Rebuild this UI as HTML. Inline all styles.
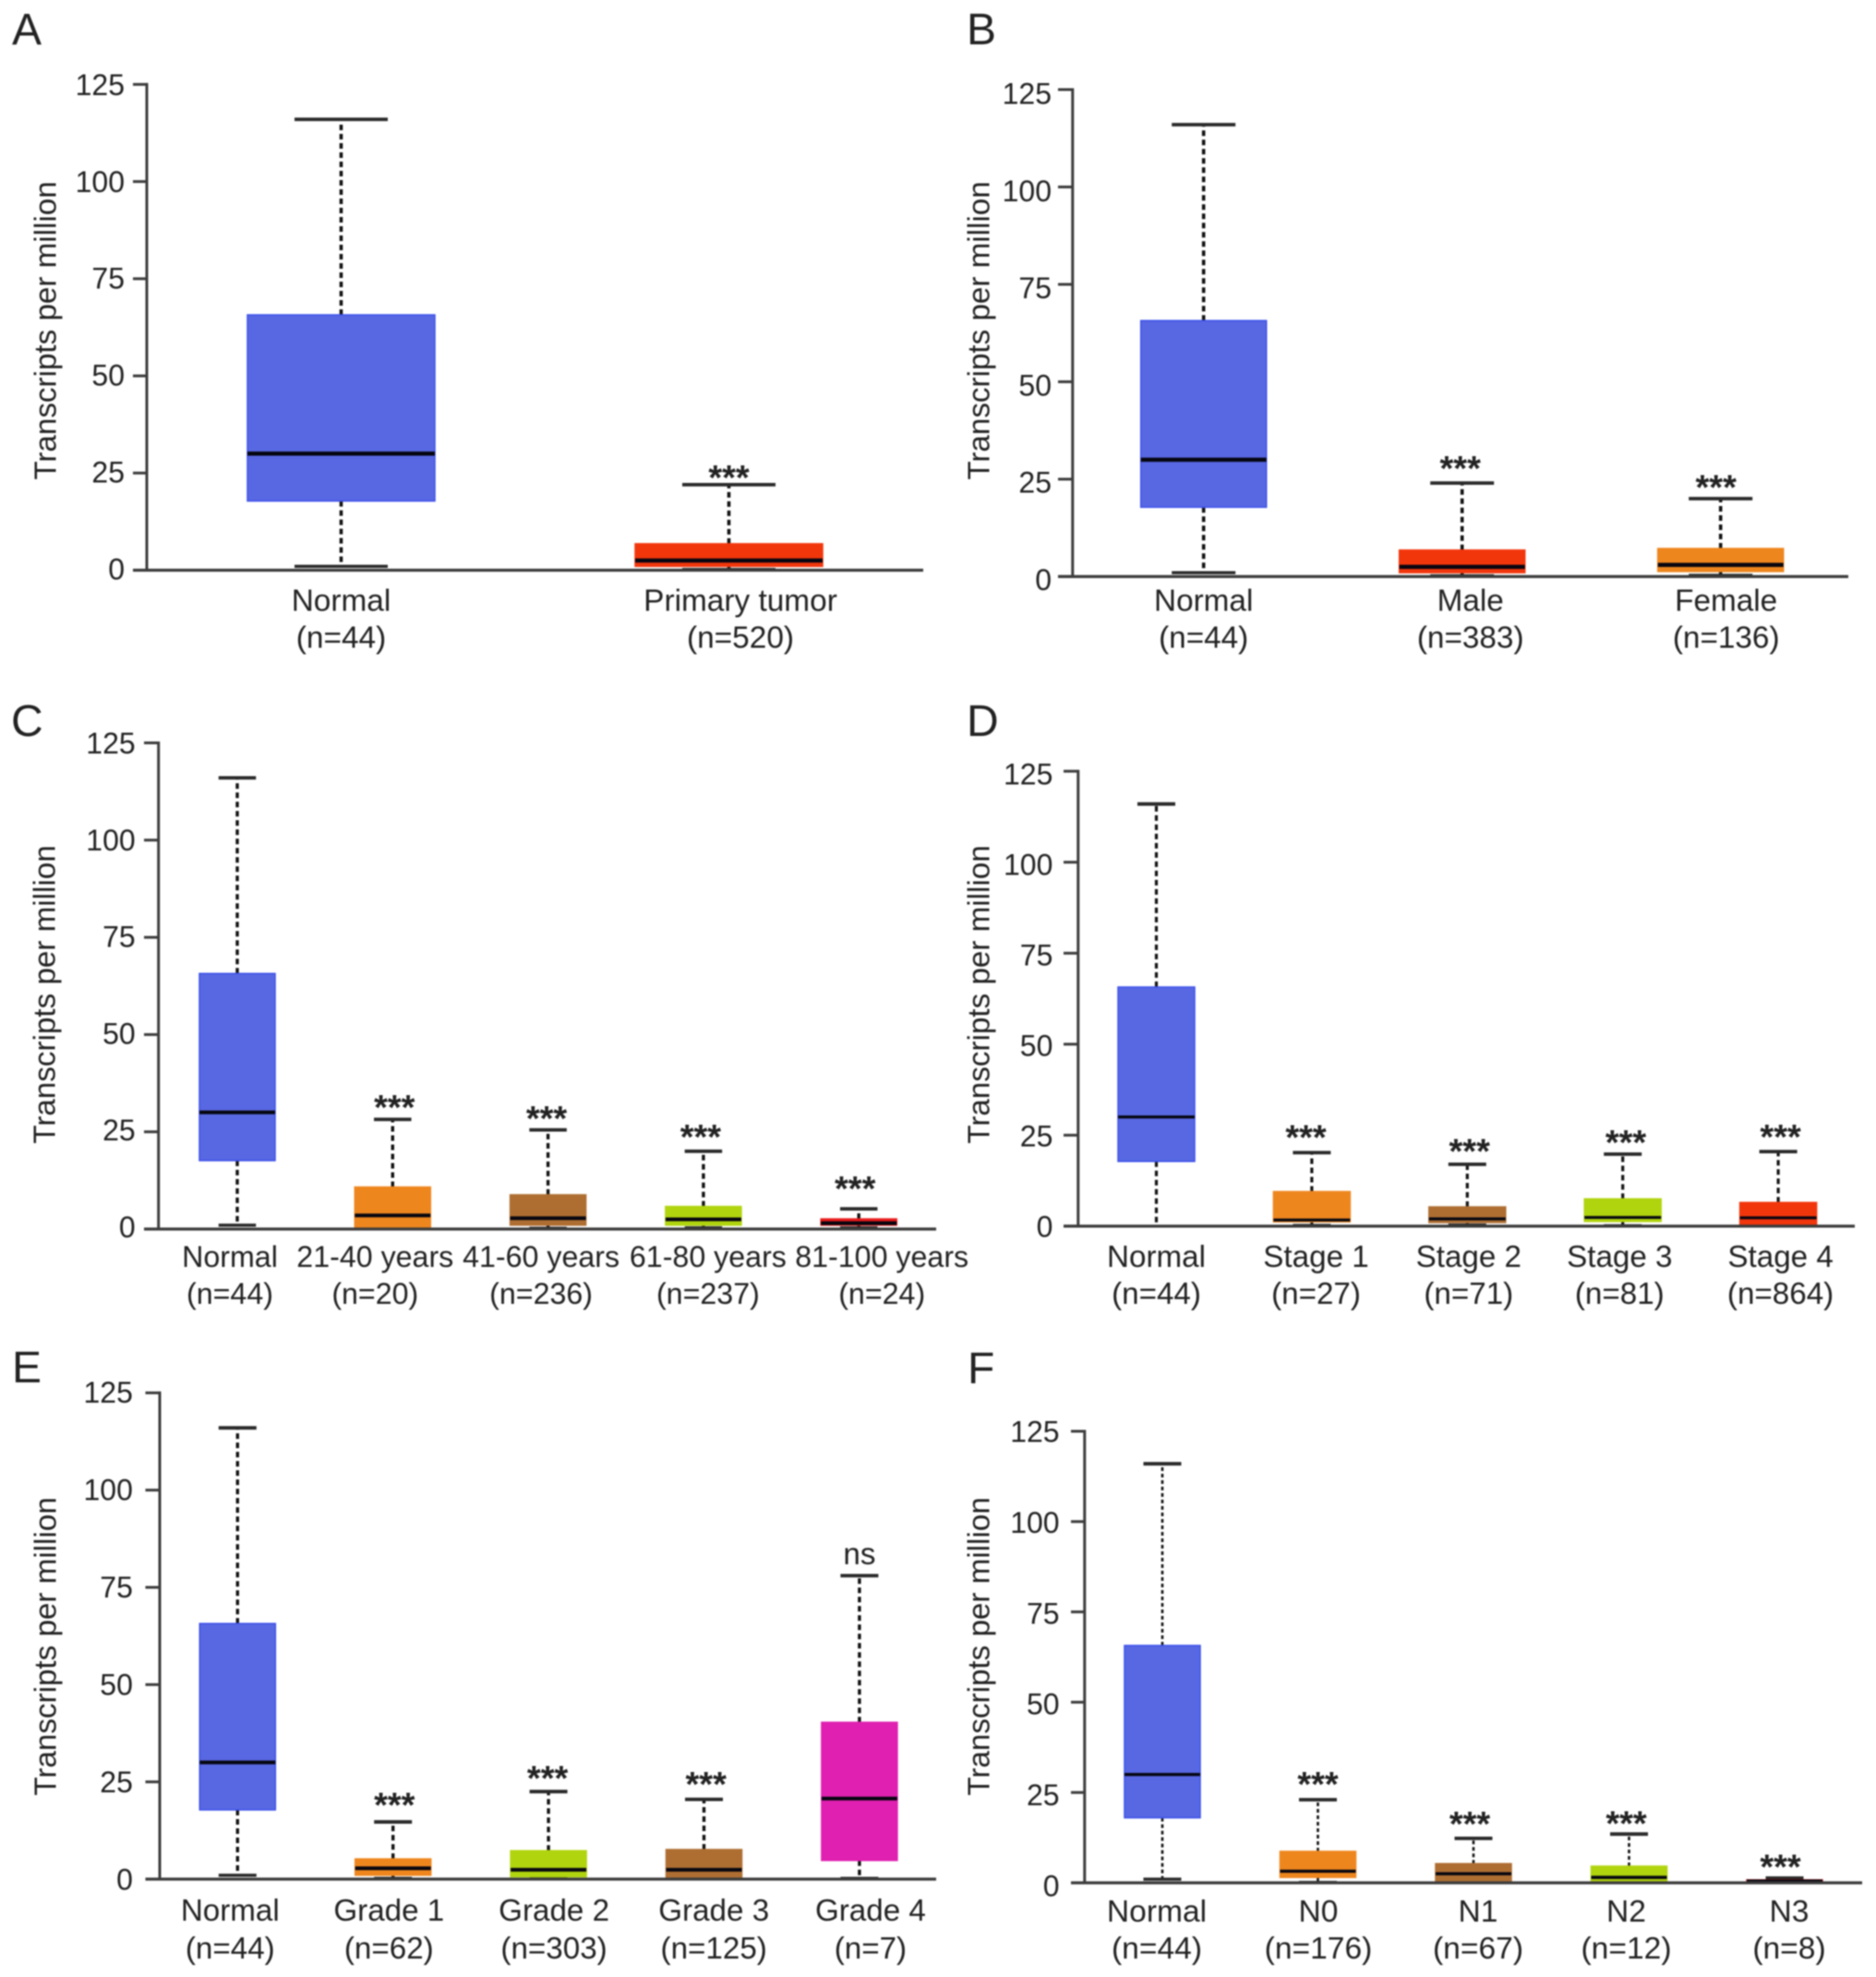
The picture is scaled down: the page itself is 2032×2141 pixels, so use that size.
<!DOCTYPE html>
<html lang="en">
<head>
<meta charset="utf-8">
<title>Transcripts per million box plots</title>
<style>
  html,body{margin:0;padding:0;background:#fff;width:2032px;height:2141px;overflow:hidden;}
  svg{display:block;filter:blur(0.7px);}
  text{font-family:"Liberation Sans",sans-serif;fill:#222;}
</style>
</head>
<body>
<svg id="figure" xmlns="http://www.w3.org/2000/svg" width="2032" height="2141" viewBox="0 0 2032 2141"></svg>
<script>
// ---------- shared tick labels ----------
const yTickValues = [0, 25, 50, 75, 100, 125];

// ---------- Panel A ----------
const panelA_categories = ['Normal', 'Primary tumor'];
const panelA_counts = [44, 520];
const panelA_high = [116, 22];
const panelA_q3 = [65.7, 6.8];
const panelA_median = [30, 2.5];
const panelA_q1 = [17.8, 1];
const panelA_low = [1, 0.2];
const panelA_marks = ['', '***'];

// ---------- Panel B ----------
const panelB_categories = ['Normal', 'Male', 'Female'];
const panelB_counts = [44, 383, 136];
const panelB_high = [116, 24, 20];
const panelB_q3 = [65.7, 6.8, 7.2];
const panelB_median = [30, 2.5, 3];
const panelB_q1 = [17.8, 1, 1.3];
const panelB_low = [1, 0.2, 0.3];
const panelB_marks = ['', '***', '***'];

// ---------- Panel C ----------
const panelC_categories = ['Normal', '21-40 years', '41-60 years', '61-80 years', '81-100 years'];
const panelC_counts = [44, 20, 236, 237, 24];
const panelC_high = [116, 28.2, 25.5, 20, 5.2];
const panelC_q3 = [65.7, 10.8, 8.8, 5.8, 2.6];
const panelC_median = [30, 3.5, 2.8, 2.5, 1.5];
const panelC_q1 = [17.6, 0.2, 1, 1, 1];
const panelC_low = [1, 0.1, 0.2, 0.3, 0.3];
const panelC_marks = ['', '***', '***', '***', '***'];

// ---------- Panel D ----------
const panelD_categories = ['Normal', 'Stage 1', 'Stage 2', 'Stage 3', 'Stage 4'];
const panelD_counts = [44, 27, 71, 81, 864];
const panelD_high = [116, 20.2, 17, 19.8, 20.5];
const panelD_q3 = [65.7, 9.5, 5.3, 7.5, 6.5];
const panelD_median = [30, 1.7, 2, 2.4, 2.3];
const panelD_q1 = [17.8, 1.2, 1, 1.3, 0.3];
const panelD_low = [0, 0.2, 0.3, 0.1, 0];
const panelD_marks = ['', '***', '***', '***', '***'];

// ---------- Panel E ----------
const panelE_categories = ['Normal', 'Grade 1', 'Grade 2', 'Grade 3', 'Grade 4'];
const panelE_counts = [44, 62, 303, 125, 7];
const panelE_high = [116, 14.7, 22.5, 20.5, 78];
const panelE_q3 = [65.7, 5.2, 7.3, 7.6, 40.3];
const panelE_median = [30, 2.8, 2.4, 2.4, 20.7];
const panelE_q1 = [17.8, 1, 0.6, 0.1, 4.8];
const panelE_low = [1, 0.2, 0.2, 0, 0.2];
const panelE_marks = ['', '***', '***', '***', 'ns'];

// ---------- Panel F ----------
const panelF_categories = ['Normal', 'N0', 'N1', 'N2', 'N3'];
const panelF_counts = [44, 176, 67, 12, 8];
const panelF_high = [116, 23, 12.3, 13.5, 1.3];
const panelF_q3 = [65.7, 8.7, 5.3, 4.6, 0.8];
const panelF_median = [30, 3.2, 2.5, 1.5, 0.5];
const panelF_q1 = [18, 1.5, 0.2, 0.3, 0.1];
const panelF_low = [1, 0.1, 0.3, 0.3, 0];
const panelF_marks = ['', '***', '***', '***', '***'];

// ---------- palette ----------
const BLUE = '#5868e2', RED = '#f2360c', ORANGE = '#ee861e', BROWN = '#ae6e32',
      LIME = '#b0d40e', MAGENTA = '#e020b0', CRIMSON = '#e81a1a';

const SVGNS = 'http://www.w3.org/2000/svg';
const figure = document.getElementById('figure');

function make(parent, tag, attrs, text) {
  const node = document.createElementNS(SVGNS, tag);
  for (const k in attrs) node.setAttribute(k, attrs[k]);
  if (text !== undefined) node.textContent = text;
  parent.appendChild(node);
  return node;
}

function drawPanel(L, categories, counts, high, q3, median, q1, low, marks) {
  const yScale = v => L.y0 - v * (L.y0 - L.y125) / 125;
  const xScale = i => L.x0 + i * L.step;

  const g = make(figure, 'g', {});
  
  

  const letter = make(g, 'text', {x: L.letterX, y: L.letterY, 'font-size': 48}, L.id.toUpperCase());
  
  

  const title = make(g, 'text', {
    transform: 'translate(' + (L.titleX + 8.7) + ',' + L.titleY + ') rotate(-90)',
    'text-anchor': 'middle', 'font-size': 33.2
  }, 'Transcripts per million');
  
  

  // boxes
  categories.forEach((cat, i) => {
    const cx = xScale(i);
    const group = make(g, 'g', {});
    
    

    const upper = make(group, 'line', {x1: cx, x2: cx, y1: yScale(q3[i]), y2: yScale(high[i]),
      stroke: '#111', 'stroke-width': L.dashW, 'stroke-dasharray': L.dash});
    
    

    const lower = make(group, 'line', {x1: cx, x2: cx, y1: yScale(q1[i]), y2: yScale(low[i]),
      stroke: '#111', 'stroke-width': L.dashW, 'stroke-dasharray': L.dash});
    
    

    const capHigh = make(group, 'line', {x1: cx - L.capW / 2, x2: cx + L.capW / 2, y1: yScale(high[i]), y2: yScale(high[i]),
      stroke: '#2a2a2a', 'stroke-width': 3.8});
    
    

    if (low[i] > 0) {
      const capLow = make(group, 'line', {x1: cx - L.capW / 2, x2: cx + L.capW / 2, y1: yScale(low[i]), y2: yScale(low[i]),
        stroke: '#2a2a2a', 'stroke-width': 3.4});
      
      
    }

    const box = make(group, 'rect', {x: cx - L.boxW / 2, y: yScale(q3[i]), width: L.boxW,
      height: yScale(q1[i]) - yScale(q3[i]), fill: L.colors[i], stroke: i === 0 ? '#3c50ea' : L.colors[i], 'stroke-width': 1.5});
    
    

    const med = make(group, 'line', {x1: cx - L.boxW / 2, x2: cx + L.boxW / 2, y1: yScale(median[i]), y2: yScale(median[i]),
      stroke: '#060610', 'stroke-width': L.medW});
    
    

    if (marks[i]) {
      const isStars = marks[i] === '***';
      const centre = yScale(high[i]) - L.markGap[i];
      const mark = make(group, 'text', {
        x: cx + L.markDx[i], y: centre + (isStars ? 18 : 9.7),
        'text-anchor': 'middle', 'font-size': isStars ? 38 : 33.2,
        'font-weight': isStars ? 'bold' : 'normal'
      }, marks[i]);
      
      
    }

    const lab = make(group, 'text', {x: cx + L.labelDx[i], y: L.labelY1, 'text-anchor': 'middle', 'font-size': L.labelSize}, cat);
    
    

    const nLab = make(group, 'text', {x: cx + L.labelDx[i], y: L.labelY2, 'text-anchor': 'middle', 'font-size': L.labelSize}, '(n=' + counts[i] + ')');
    
    
  });

  // axes
  const yAxis = make(g, 'line', {x1: L.axisX, x2: L.axisX, y1: yScale(125) - 1.5, y2: yScale(0), stroke: '#3c3c3c', 'stroke-width': 3});
  
  

  const xAxis = make(g, 'line', {x1: L.tickX, x2: L.xEnd, y1: yScale(0), y2: yScale(0), stroke: '#3c3c3c', 'stroke-width': 3.2});
  
  

  yTickValues.forEach(v => {
    const tick = make(g, 'line', {x1: L.tickX, x2: L.axisX, y1: yScale(v), y2: yScale(v), stroke: '#3c3c3c', 'stroke-width': 3});
    
    

    const nudge = L.tickNudgeZero + (L.tickNudgeTop - L.tickNudgeZero) * v / 125;
    const tl = make(g, 'text', {x: L.tickLabelX, y: yScale(v) + 11.5 + nudge, 'text-anchor': 'end', 'font-size': 32}, String(v));
    
    
  });
}

drawPanel({
  id: 'a', letterX: 13, letterY: 48, titleX: 52, titleY: 358,
  axisX: 159, tickX: 144, xEnd: 1000, y0: 617.5, y125: 91.4, tickLabelX: 135, tickNudgeTop: 0, tickNudgeZero: -1.5,
  x0: 369.5, step: 420, boxW: 203, capW: 101, medW: 4.5, dash: '6 4', dashW: 3.6,
  colors: [BLUE, RED], labelDx: [0, 12.5], labelY1: 661.5, labelY2: 701.5, labelSize: 33.4,
  markGap: [0, 13], markDx: [0, 0]
}, panelA_categories, panelA_counts, panelA_high, panelA_q3, panelA_median, panelA_q1, panelA_low, panelA_marks);

drawPanel({
  id: 'b', letterX: 1047, letterY: 48, titleX: 1063, titleY: 358,
  axisX: 1161.8, tickX: 1146, xEnd: 2002, y0: 624.4, y125: 97, tickLabelX: 1139, tickNudgeTop: 4, tickNudgeZero: 3,
  x0: 1303.7, step: 280, boxW: 136, capW: 69, medW: 4.5, dash: '6 4', dashW: 3.6,
  colors: [BLUE, RED, ORANGE], labelDx: [0, 9, 6], labelY1: 661.5, labelY2: 701.5, labelSize: 33.3,
  markGap: [0, 21, 17.7], markDx: [0, -2, -5]
}, panelB_categories, panelB_counts, panelB_high, panelB_q3, panelB_median, panelB_q1, panelB_low, panelB_marks);

drawPanel({
  id: 'c', letterX: 12, letterY: 797, titleX: 51, titleY: 1077, 
  axisX: 171.7, tickX: 156, xEnd: 1014, y0: 1331, y125: 804.5, tickLabelX: 146.7, tickNudgeTop: 0, tickNudgeZero: -2.5,
  x0: 257, step: 168.3, boxW: 82, capW: 40.5, medW: 4, dash: '6 4', dashW: 3.4,
  colors: [BLUE, ORANGE, BROWN, LIME, CRIMSON], labelDx: [-8, -19, -7.5, 5, 25], labelY1: 1372, labelY2: 1412, labelSize: 32.2,
  markGap: [0, 18, 17.6, 20.8, 27], markDx: [0, 2, -1.6, -3, -4]
}, panelC_categories, panelC_counts, panelC_high, panelC_q3, panelC_median, panelC_q1, panelC_low, panelC_marks);

drawPanel({
  id: 'd', letterX: 1047, letterY: 797, titleX: 1063, titleY: 1077,
  axisX: 1167.8, tickX: 1152, xEnd: 2009, y0: 1327.9, y125: 835.2, tickLabelX: 1140.4, tickNudgeTop: 3, tickNudgeZero: 0,
  x0: 1252.5, step: 168.4, boxW: 83, capW: 41, medW: 3.2, dash: '6 4', dashW: 3.2,
  colors: [BLUE, ORANGE, BROWN, LIME, RED], labelDx: [0, 4.6, 1.5, -3.4, 2.5], labelY1: 1372, labelY2: 1412, labelSize: 33.2,
  markGap: [0, 22, 19.4, 18, 21], markDx: [0, -6.4, 2.4, 3.3, 2.5]
}, panelD_categories, panelD_counts, panelD_high, panelD_q3, panelD_median, panelD_q1, panelD_low, panelD_marks);

drawPanel({
  id: 'e', letterX: 13, letterY: 1497, titleX: 52, titleY: 1783,
  axisX: 173, tickX: 157.5, xEnd: 1014, y0: 2035, y125: 1508.4, tickLabelX: 143.9, tickNudgeTop: -1, tickNudgeZero: 0,
  x0: 257.3, step: 168.4, boxW: 82, capW: 41, medW: 4, dash: '6 4', dashW: 3.4,
  colors: [BLUE, ORANGE, LIME, BROWN, MAGENTA], labelDx: [-8, -4.4, 6, 10.7, 12], labelY1: 2080, labelY2: 2121, labelSize: 33.2,
  markGap: [0, 23.5, 19.7, 21.7, 22], markDx: [0, 1.6, -1, 2.2, 0]
}, panelE_categories, panelE_counts, panelE_high, panelE_q3, panelE_median, panelE_q1, panelE_low, panelE_marks);

drawPanel({
  id: 'f', letterX: 1048, letterY: 1498, titleX: 1063, titleY: 1783,
  axisX: 1174.8, tickX: 1160, xEnd: 2017, y0: 2039, y125: 1550, tickLabelX: 1147.6, tickNudgeTop: 0, tickNudgeZero: 3,
  x0: 1259, step: 168.5, boxW: 82, capW: 41, medW: 3.4, dash: '4 3', dashW: 2.6,
  colors: [BLUE, ORANGE, BROWN, LIME, CRIMSON], labelDx: [-6, 0.5, 5, -3, 5], labelY1: 2081, labelY2: 2121, labelSize: 33.6,
  markGap: [0, 22, 21, 16.5, 17.3], markDx: [0, 0, -4, -3, -4.5]
}, panelF_categories, panelF_counts, panelF_high, panelF_q3, panelF_median, panelF_q1, panelF_low, panelF_marks);
</script>
</body>
</html>
